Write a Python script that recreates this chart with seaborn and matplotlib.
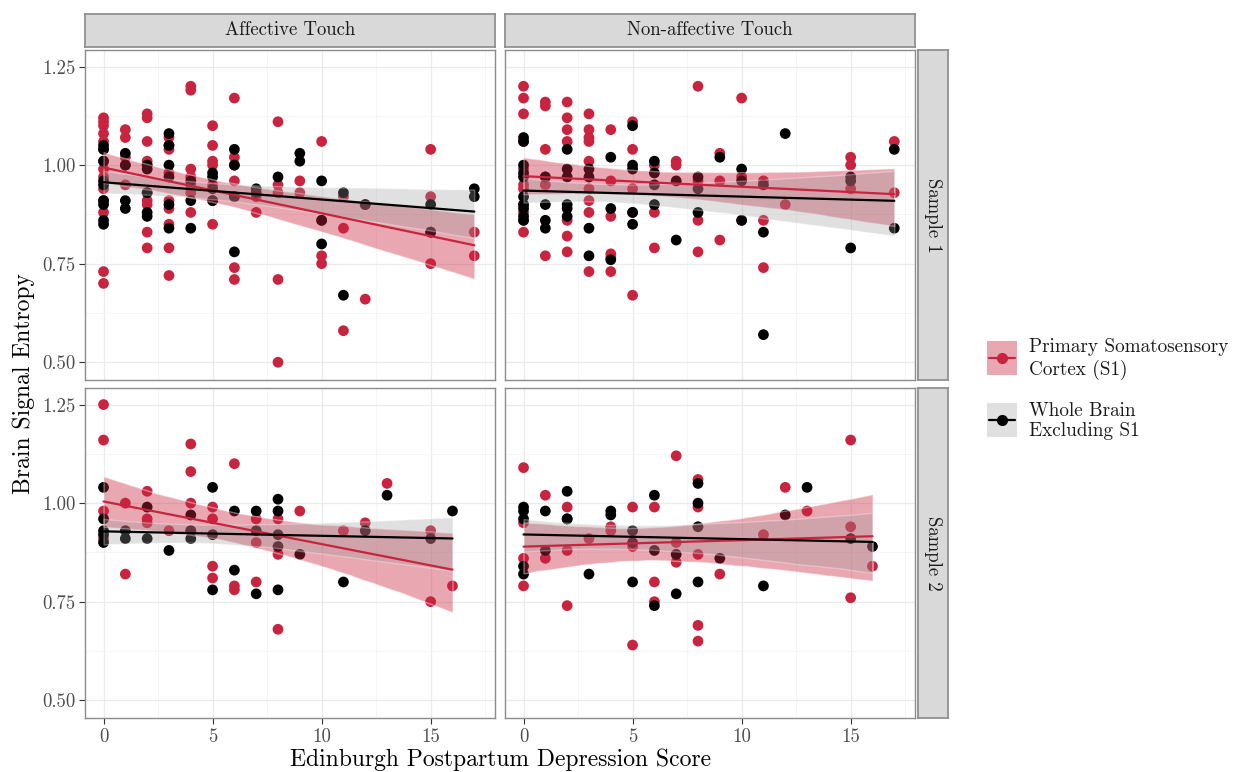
import numpy as np
import pandas as pd
import seaborn as sns
import matplotlib.pyplot as plt
from matplotlib.patches import Rectangle
from matplotlib.ticker import MultipleLocator

# Brain signal entropy: EPDS score -> entropy values
# Affective touch, sample 1
aff1_s1 = {0: [1.12, 1.11, 1.10, 1.08, 1.06, 1.04, 1.01, 0.99, 0.97, 0.94, 0.91, 0.88, 0.73, 0.70],
           1: [1.09, 1.07, 1.02, 1.00, 0.95],
           2: [1.13, 1.12, 1.06, 1.01, 1.00, 0.93, 0.91, 0.90, 0.83, 0.79],
           3: [1.07, 1.05, 1.04, 0.98, 0.91, 0.89, 0.85, 0.79, 0.72],
           4: [1.20, 1.19, 0.99, 0.97, 0.95, 0.93, 0.88],
           5: [1.10, 1.05, 1.01, 1.00, 0.95, 0.91, 0.85],
           6: [1.17, 1.02, 1.00, 0.96, 0.92, 0.74, 0.71],
           7: [0.92, 0.88],
           8: [1.11, 0.95, 0.93, 0.71, 0.50],
           9: [0.96, 0.93],
           10: [1.06, 0.86, 0.77, 0.75],
           11: [0.92, 0.84, 0.58],
           12: [0.90, 0.66],
           15: [1.04, 0.92, 0.83, 0.75],
           17: [0.83, 0.77]}
aff1_wb = {0: [1.05, 1.04, 1.01, 0.96, 0.95, 0.91, 0.90, 0.86, 0.85],
           1: [1.03, 1.00, 0.91, 0.89],
           2: [1.00, 0.99, 0.93, 0.88, 0.87],
           3: [1.08, 1.05, 1.00, 0.97, 0.90, 0.84],
           4: [0.96, 0.91, 0.84],
           5: [0.98, 0.97, 0.94, 0.91],
           6: [1.04, 1.00, 0.92, 0.78],
           7: [0.94, 0.93],
           8: [0.97],
           9: [1.03, 1.01],
           10: [0.96, 0.86, 0.80],
           11: [0.93, 0.67],
           12: [0.90],
           15: [0.90, 0.83],
           17: [0.94, 0.92]}

# Non-affective touch, sample 1
non1_s1 = {0: [1.20, 1.17, 1.13, 1.06, 0.99, 0.95, 0.94, 0.90, 0.88, 0.86, 0.83],
           1: [1.16, 1.15, 1.04, 0.97, 0.95, 0.77],
           2: [1.16, 1.12, 1.09, 1.06, 0.86, 0.82, 0.78],
           3: [1.13, 1.09, 1.07, 1.06, 1.01, 0.94, 0.91, 0.88, 0.73],
           4: [1.09, 0.96, 0.87, 0.775, 0.765, 0.73],
           5: [1.11, 1.04, 0.94, 0.88, 0.67],
           6: [1.00, 0.88, 0.79],
           7: [1.01, 1.00],
           8: [1.20, 0.96, 0.86, 0.78],
           9: [1.03, 0.96, 0.81],
           10: [1.17, 0.97, 0.86],
           11: [0.96, 0.86, 0.74],
           12: [0.90],
           15: [1.02, 1.00, 0.94],
           17: [1.06, 0.93]}
non1_wb = {0: [1.07, 1.06, 1.00, 0.98, 0.97, 0.92, 0.90, 0.89, 0.87, 0.86],
           1: [0.97, 0.90, 0.86, 0.84],
           2: [1.04, 0.99, 0.97, 0.90, 0.89, 0.87],
           3: [0.99, 0.97, 0.84, 0.77],
           4: [1.02, 0.89, 0.76],
           5: [1.10, 1.00, 0.99, 0.88, 0.85],
           6: [1.01, 0.98, 0.95, 0.90],
           7: [0.96, 0.81],
           8: [0.97, 0.94, 0.88],
           9: [1.02],
           10: [0.99, 0.96, 0.86],
           11: [0.95, 0.83, 0.57],
           12: [1.08],
           15: [0.97, 0.96, 0.79],
           17: [1.04, 0.84]}

# Affective touch, sample 2
aff2_s1 = {0: [1.25, 1.16, 0.98, 0.91],
           1: [1.00, 0.82],
           2: [1.03, 0.96, 0.95],
           3: [0.93],
           4: [1.15, 1.08, 1.00, 0.93],
           5: [0.99, 0.96, 0.84, 0.81],
           6: [1.10, 0.79, 0.78],
           7: [0.96, 0.90, 0.80],
           8: [0.96, 0.87, 0.68],
           9: [0.98],
           11: [0.93],
           12: [0.95],
           13: [1.05],
           15: [0.93, 0.75],
           16: [0.79]}
aff2_wb = {0: [1.04, 0.96, 0.93, 0.92, 0.90],
           1: [0.93, 0.91],
           2: [0.99, 0.91],
           3: [0.88],
           4: [0.97, 0.93, 0.91],
           5: [1.04, 0.92, 0.78],
           6: [0.98, 0.83],
           7: [0.98, 0.93, 0.77],
           8: [1.01, 0.98, 0.92, 0.89, 0.78],
           9: [0.87],
           11: [0.80],
           12: [0.93],
           13: [1.02],
           15: [0.91],
           16: [0.98]}

# Non-affective touch, sample 2
non2_s1 = {0: [1.09, 0.95, 0.86, 0.79],
           1: [1.02, 0.86],
           2: [0.99, 0.88, 0.74],
           3: [0.91],
           4: [0.94, 0.93],
           5: [0.99, 0.89, 0.64],
           6: [0.99, 0.80, 0.75],
           7: [1.12, 0.90, 0.85],
           8: [1.06, 0.99, 0.87, 0.69, 0.65],
           9: [0.82],
           11: [0.92],
           12: [1.04],
           13: [0.98],
           15: [1.16, 0.94, 0.76],
           16: [0.84]}
non2_wb = {0: [0.99, 0.98, 0.96, 0.84, 0.82],
           1: [0.98, 0.88],
           2: [1.03, 0.96, 0.96],
           3: [0.82],
           4: [0.98, 0.97],
           5: [0.93, 0.90, 0.80],
           6: [1.02, 0.88, 0.74],
           7: [0.87, 0.77],
           8: [1.05, 1.00, 0.94, 0.80],
           9: [0.86],
           11: [0.79],
           12: [0.97],
           13: [1.04],
           15: [0.91],
           16: [0.89]}

touch_labels = ['Affective Touch', 'Non-affective Touch']
sample_labels = ['Sample 1', 'Sample 2']
region_labels = ['Primary Somatosensory\nCortex (S1)', 'Whole Brain\nExcluding S1']
x_ticks = [0, 5, 10, 15]
y_ticks = [0.50, 0.75, 1.00, 1.25]

panels = {
    ('Affective Touch', 'Sample 1'): (aff1_s1, aff1_wb),
    ('Non-affective Touch', 'Sample 1'): (non1_s1, non1_wb),
    ('Affective Touch', 'Sample 2'): (aff2_s1, aff2_wb),
    ('Non-affective Touch', 'Sample 2'): (non2_s1, non2_wb),
}

rows = []
for (touch, sample), series in panels.items():
    for region, d in zip(region_labels, series):
        for score, vals in d.items():
            for v in vals:
                rows.append({'touch': touch, 'sample': sample, 'region': region,
                             'score': score, 'entropy': v})
df = pd.DataFrame(rows)

red = '#C8243F'
palette = {region_labels[0]: red, region_labels[1]: 'black'}
fills = {region_labels[0]: (red, 0.4), region_labels[1]: ('#999999', 0.3)}

sns.set_theme(style='white')
plt.rcParams['font.family'] = ['cmr10', 'DejaVu Sans']
plt.rcParams['mathtext.fontset'] = 'cm'
plt.rcParams['axes.formatter.use_mathtext'] = True

W, H = 1233, 772
fig = plt.figure(figsize=(W / 100, H / 100), dpi=100)

col_x = [85, 505]
row_y = [50, 388]
pw, ph = 410, 330
border = '#8C8C8C'
strip_fc = '#D9D9D9'

for i, sample in enumerate(sample_labels):
    for j, touch in enumerate(touch_labels):
        ax = fig.add_axes([col_x[j] / W, 1 - (row_y[i] + ph) / H, pw / W, ph / H])
        sub = df[(df['touch'] == touch) & (df['sample'] == sample)]
        sns.scatterplot(data=sub, x='score', y='entropy', hue='region', palette=palette,
                        s=60, edgecolor='none', linewidth=0, legend=False, ax=ax, zorder=2)
        for region in region_labels:
            sns.regplot(data=sub[sub['region'] == region], x='score', y='entropy',
                        scatter=False, ci=95, n_boot=2000, seed=1, color=palette[region],
                        line_kws={'lw': 1.6, 'zorder': 4}, ax=ax)
            band = ax.collections[-1]
            band.set_facecolor(fills[region][0])
            band.set_alpha(fills[region][1])
            band.set_zorder(3)
        ax.set_xlim(-0.85, 17.95)
        ax.set_ylim(0.455, 1.292)
        ax.xaxis.set_major_locator(MultipleLocator(5))
        ax.xaxis.set_minor_locator(MultipleLocator(2.5))
        ax.set_yticks(y_ticks)
        ax.yaxis.set_minor_locator(MultipleLocator(0.125))
        ax.grid(which='major', color='#EBEBEB', lw=0.9)
        ax.grid(which='minor', color='#F2F2F2', lw=0.5)
        ax.set_axisbelow(True)
        for sp in ax.spines.values():
            sp.set_color(border)
            sp.set_linewidth(1.0)
        ax.set_xlabel('')
        ax.set_ylabel('')
        ax.tick_params(which='major', length=4, width=0.8, color='#333333',
                       labelcolor='#4D4D4D', labelsize=13.5, pad=3,
                       bottom=(i == 1), left=(j == 0),
                       labelbottom=(i == 1), labelleft=(j == 0))
        ax.tick_params(which='minor', length=0)
        if j == 0:
            ax.set_yticklabels([f'{t:.2f}' for t in y_ticks])
        if i == 1:
            ax.set_xticks(x_ticks)
            ax.set_xticklabels([str(t) for t in x_ticks])

        # facet strips
        if i == 0:
            sax = fig.add_axes([col_x[j] / W, 1 - 47 / H, pw / W, 33 / H])
            sax.set_facecolor(strip_fc)
            sax.set_xticks([])
            sax.set_yticks([])
            for sp in sax.spines.values():
                sp.set_color(border)
            sax.text(0.5, 0.5, touch, ha='center', va='center', fontsize=13.5, color='#1A1A1A',
                     transform=sax.transAxes)
        if j == 1:
            sax = fig.add_axes([918 / W, 1 - (row_y[i] + ph) / H, 30 / W, ph / H])
            sax.set_facecolor(strip_fc)
            sax.set_xticks([])
            sax.set_yticks([])
            for sp in sax.spines.values():
                sp.set_color(border)
            sax.text(0.5, 0.5, sample, ha='center', va='center', fontsize=13.5, color='#1A1A1A',
                     rotation=270, transform=sax.transAxes)

fig.text(500 / W, 1 - 760 / H, 'Edinburgh Postpartum Depression Score',
         ha='center', va='center', fontsize=17, color='black')
fig.text(24 / W, 1 - 384 / H, 'Brain Signal Entropy', ha='center', va='center',
         rotation=90, fontsize=17, color='black')

# legend drawn in figure pixel space, ggplot style keys
lax = fig.add_axes([0, 0, 1, 1], zorder=-1)
lax.set_xlim(0, W)
lax.set_ylim(H, 0)
lax.axis('off')
for k, region in enumerate(region_labels):
    top = 341 + k * 62
    fc, a = fills[region]
    lax.add_patch(Rectangle((987, top), 30, 34, facecolor=fc, alpha=a, edgecolor='none'))
    lax.plot([989, 1015], [top + 17, top + 17], color=palette[region], lw=1.6)
    lax.plot([1002], [top + 17], marker='o', markersize=7, color=palette[region])
    lax.text(1029, top + 18, region, ha='left', va='center', fontsize=13.8,
             color='#1A1A1A', linespacing=1.2)

fig.savefig('out.png', dpi=100)
